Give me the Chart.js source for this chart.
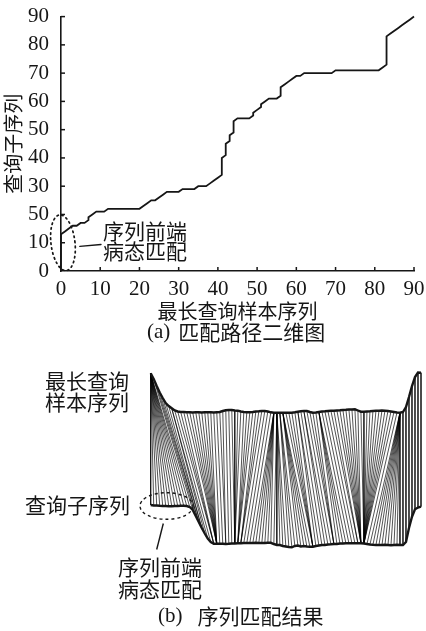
<!DOCTYPE html>
<html>
<head>
<meta charset="utf-8">
<script src="https://cdn.jsdelivr.net/npm/chart.js@4.4.1/dist/chart.umd.min.js"></script>
<style>
  html, body { margin: 0; padding: 0; background: #fff; }
  #wrap { position: relative; width: 426px; height: 631px; overflow: hidden; }
  #pathChart { position: absolute; left: 0; top: 0; }
  #matchChart { position: absolute; left: 0; top: 345px; }
</style>
</head>
<body>
<div id="wrap">
  <canvas id="pathChart" width="426" height="345"></canvas>
  <canvas id="matchChart" width="426" height="286"></canvas>
</div>
<script>
// tick labels of panel (a), as printed
const xTickLabels = ['0', '10', '20', '30', '40', '50', '60', '70', '80', '90'];
const yTickLabels = ['0', '10', '50', '30', '40', '50', '60', '70', '80', '90'];

// warping path: last query index matched to each sample index 0..90
const queryEnd = [
  13, 14, 15, 16, 16, 17, 17, 19, 20, 21, 21, 21, 22,
  22, 22, 22, 22, 22, 22, 22, 22,
  23, 24, 25, 25, 26, 27, 28, 28, 28, 28, 29, 29, 29, 29, 30, 30, 30, 31, 32, 33,
  40, 45, 48, 53, 54, 54, 54, 54, 56, 57, 59, 60, 61, 61, 61, 65, 66, 67, 68, 69, 69, 70,
  70, 70, 70, 70, 70, 70, 70,
  71,
  71, 71, 71, 71, 71, 71, 71, 71, 71, 71, 71,
  72, 83, 84, 85, 86, 87, 88, 89, 90
];

// longest query sample sequence (top curve in b)
const sampleSeq = [
  3.92, 3.35, 2.65, 2.0, 1.45, 0.95, 0.65, 0.42, 0.2, 0.1,
  0.05, 0.05, 0.03, 0.02, 0.0, 0.02, 0.03, 0.0, 0.02, 0.03,
  0.02, 0.0, 0.03, 0.05, 0.15, 0.22, 0.25, 0.25, 0.2, 0.18,
  0.1, 0.05, 0.02, 0.02, 0.05, 0.1, 0.12, 0.15, 0.15, 0.1,
  0.02, -0.02, -0.02, -0.02, -0.02, -0.02, -0.02, -0.02, 0.02, 0.07,
  0.12, 0.15, 0.15, 0.05, -0.02, 0.0, 0.05, 0.1, 0.12, 0.15,
  0.17, 0.18, 0.2, 0.22, 0.25, 0.27, 0.3, 0.3, 0.32, 0.2,
  0.08, 0.08, 0.1, 0.12, 0.15, 0.17, 0.17, 0.2, 0.18, 0.15,
  0.1, 0.05, 0.0, -0.02, 0.05, 0.55, 1.55, 2.65, 3.55, 4.0,
  3.98
];

// query subsequence (bottom curve in b)
const querySeq = [
  4.0, 3.95, 3.95, 3.92, 3.9, 3.9, 3.88, 3.88, 3.9, 3.9,
  3.92, 3.92, 3.9, 3.8, 3.5, 2.9, 2.3, 1.7, 1.15, 0.65,
  0.3, 0.12, 0.12, 0.13, 0.12, 0.1, 0.12, 0.15, 0.15, 0.17,
  0.18, 0.2, 0.2, 0.2, 0.2, 0.22, 0.2, 0.2, 0.2, 0.22,
  0.22, 0.1, 0.0, 0.0, -0.1, -0.15, -0.2, -0.23, -0.1, -0.05,
  -0.15, -0.1, -0.15, -0.18, -0.17, -0.1, -0.05, 0.0, 0.0, 0.05,
  0.07, 0.1, 0.1, 0.15, 0.15, 0.17, 0.17, 0.17, 0.17, 0.17,
  0.17, 0.15, 0.1, 0.05, 0.02, 0.0, 0.0, 0.0, 0.02, 0.0,
  -0.02, 0.0, 0.02, 0.0, 0.0, 0.3, 1.7, 2.83, 3.57, 3.75,
  3.83
];

const INK = '#161616';
const CJK = '"Noto Sans CJK SC", "Noto Sans", sans-serif';
const SERIF = '"Liberation Serif", "DejaVu Serif", serif';
const TOP_BASE = 14.75;  // vertical offset of the sample curve in (b)
const BOT_BASE = 1.5;

// expand the path into (sample, query) pairs
const pathPairs = [];
queryEnd.forEach((hi, j) => {
  const lo = j === 0 ? 0 : Math.min(queryEnd[j - 1] + 1, hi);
  for (let i = lo; i <= hi; i++) pathPairs.push([j, i]);
});

function drawParts(ctx, parts, x, y) {
  ctx.save();
  ctx.textBaseline = 'middle';
  ctx.textAlign = 'left';
  ctx.fillStyle = INK;
  parts.forEach(p => {
    ctx.font = p.font;
    ctx.fillText(p.text, x, y);
    x += ctx.measureText(p.text).width + (p.gap || 0);
  });
  ctx.restore();
}

// ---------- (a) matching path ----------
const pathDecor = {
  id: 'pathDecor',
  afterDraw(chart) {
    const { ctx, scales: { x, y }, chartArea } = chart;
    ctx.save();
    ctx.strokeStyle = INK;
    ctx.lineWidth = 1.5;
    // inward tick marks
    x.ticks.forEach(t => {
      if (t.value === 0) return;
      const px = x.getPixelForValue(t.value);
      ctx.beginPath(); ctx.moveTo(px, chartArea.bottom); ctx.lineTo(px, chartArea.bottom - 4); ctx.stroke();
    });
    y.ticks.forEach(t => {
      if (t.value === 0) return;
      const py = y.getPixelForValue(t.value);
      ctx.beginPath(); ctx.moveTo(chartArea.left, py); ctx.lineTo(chartArea.left + 4, py); ctx.stroke();
    });
    // dotted ellipse around the front part
    ctx.setLineDash([1.5, 3.5]);
    ctx.lineCap = 'round';
    ctx.lineWidth = 1.7;
    ctx.beginPath();
    ctx.ellipse(x.getPixelForValue(0.5), y.getPixelForValue(10), 12, 28, -0.12, 0, Math.PI * 2);
    ctx.stroke();
    ctx.setLineDash([]);
    ctx.lineWidth = 1.4;
    ctx.beginPath();
    ctx.moveTo(x.getPixelForValue(4.8), y.getPixelForValue(8.7));
    ctx.lineTo(x.getPixelForValue(10.2), y.getPixelForValue(9.4));
    ctx.stroke();
    ctx.restore();
    const tx = x.getPixelForValue(10.7);
    drawParts(ctx, [{ text: '序列前端', font: '21px ' + CJK }], tx, y.getPixelForValue(14.1));
    drawParts(ctx, [{ text: '病态匹配', font: '21px ' + CJK }], tx, y.getPixelForValue(7.1));
    drawParts(ctx, [
      { text: '(a)', font: '21px ' + SERIF, gap: 8 },
      { text: '匹配路径二维图', font: '21px ' + CJK }
    ], 147, 332.5);
  }
};

new Chart(document.getElementById('pathChart'), {
  type: 'scatter',
  data: {
    datasets: [{
      data: pathPairs.map(([j, i]) => ({ x: j, y: i })),
      showLine: true,
      borderColor: INK,
      borderWidth: 1.8,
      pointRadius: 0,
      clip: false
    }]
  },
  options: {
    responsive: false,
    animation: false,
    layout: { padding: { top: 14, right: 12, bottom: 26, left: 0 } },
    plugins: { legend: { display: false }, tooltip: { enabled: false } },
    scales: {
      x: {
        type: 'linear', min: 0, max: 90,
        grid: { display: false },
        border: { display: true, color: INK, width: 1.6 },
        ticks: {
          stepSize: 10, autoSkip: false, maxRotation: 0, padding: -2.5, color: INK,
          font: { family: SERIF, size: 21 },
          callback: (v, i) => xTickLabels[i]
        },
        title: { display: true, text: '最长查询样本序列', color: INK, padding: { top: 0, bottom: -2 },
                 font: { family: CJK, size: 20, lineHeight: 1 } },
        afterFit: s => { s.height = 48; }
      },
      y: {
        type: 'linear', min: 0, max: 90,
        grid: { display: false },
        border: { display: true, color: INK, width: 1.6 },
        ticks: {
          stepSize: 10, autoSkip: false, padding: 4, color: INK,
          font: { family: SERIF, size: 21 },
          callback: (v, i) => yTickLabels[i]
        },
        title: { display: true, text: '查询子序列', color: INK, padding: { top: 3, bottom: 0 },
                 font: { family: CJK, size: 20, lineHeight: 1 } },
        afterFit: s => { s.width = 61; }
      }
    }
  },
  plugins: [pathDecor]
});

// ---------- (b) sequence matching result ----------
const links = [];
pathPairs.forEach(([j, i]) => {
  links.push({ x: j, y: sampleSeq[j] + TOP_BASE }, { x: i, y: querySeq[i] + BOT_BASE }, { x: i, y: null });
});

const matchDecor = {
  id: 'matchDecor',
  afterDraw(chart) {
    const { ctx } = chart;
    ctx.save();
    ctx.strokeStyle = INK;
    ctx.lineWidth = 1.4;
    ctx.setLineDash([3, 3]);
    ctx.beginPath();
    ctx.ellipse(166.5, 161, 26.5, 13.3, 0, 0, Math.PI * 2);
    ctx.stroke();
    ctx.setLineDash([]);
    ctx.beginPath();
    ctx.moveTo(163.3, 178.5); ctx.lineTo(156.7, 204.5);
    ctx.stroke();
    ctx.restore();
    const f = '21px ' + CJK;
    drawParts(ctx, [{ text: '最长查询', font: f }], 45, 36);
    drawParts(ctx, [{ text: '样本序列', font: f }], 45, 57.5);
    drawParts(ctx, [{ text: '查询子序列', font: f }], 25, 160);
    drawParts(ctx, [{ text: '序列前端', font: f }], 118, 222);
    drawParts(ctx, [{ text: '病态匹配', font: f }], 118, 244);
    drawParts(ctx, [
      { text: '(b)', font: '21px ' + SERIF, gap: 15 },
      { text: '序列匹配结果', font: f }
    ], 158, 271);
  }
};

new Chart(document.getElementById('matchChart'), {
  type: 'scatter',
  data: {
    datasets: [
      {
        label: 'sample',
        data: sampleSeq.map((v, j) => ({ x: j, y: v + TOP_BASE })),
        showLine: true, borderColor: INK, borderWidth: 2.4, pointRadius: 0, clip: false, order: 1
      },
      {
        label: 'query',
        data: querySeq.map((v, i) => ({ x: i, y: v + BOT_BASE })),
        showLine: true, borderColor: INK, borderWidth: 2.4, pointRadius: 0, clip: false, order: 1
      },
      {
        label: 'links',
        data: links,
        showLine: true, spanGaps: false, borderColor: 'rgba(0,0,0,0.9)', borderWidth: 0.75,
        pointRadius: 0, clip: false, order: 3
      }
    ]
  },
  options: {
    responsive: false,
    animation: false,
    layout: { padding: { top: 20, right: 5, bottom: 71, left: 150.7 } },
    plugins: { legend: { display: false }, tooltip: { enabled: false } },
    scales: {
      x: { type: 'linear', min: 0, max: 90, display: false },
      y: { type: 'linear', min: 0, max: 19.5, display: false }
    }
  },
  plugins: [matchDecor]
});
</script>
</body>
</html>
